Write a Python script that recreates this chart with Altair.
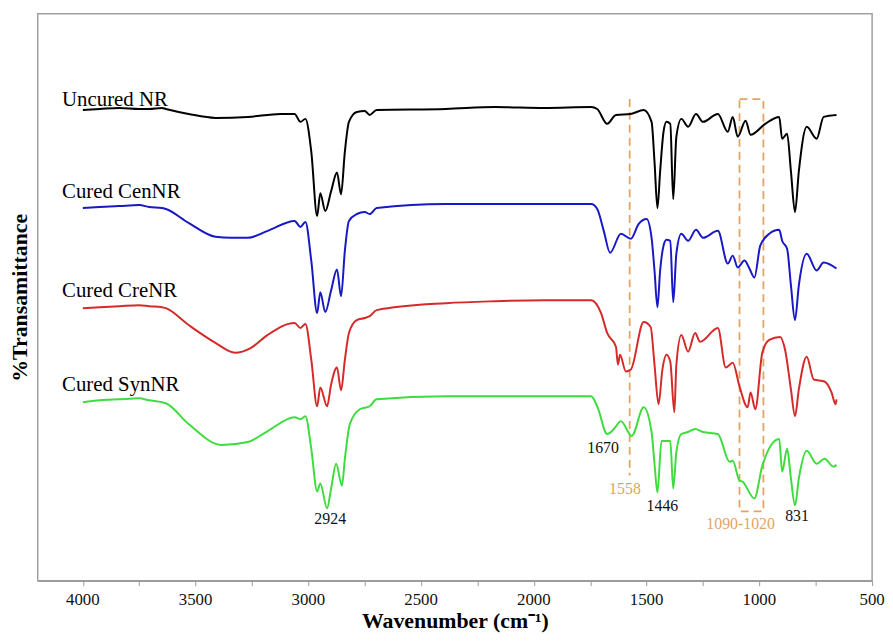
import altair as alt
import pandas as pd

# ---- data (wavenumber, level; level grows downward on the page) ----
uncured_wn = [4000, 3925, 3838, 3750, 3706, 3649, 3632, 3531, 3412, 3268, 3123, 3061, 3035, 3013, 2987, 2961, 2947, 2925, 2899, 2873, 2855, 2838, 2820, 2785, 2750, 2728, 2697, 2390, 2171, 1952, 1746, 1719, 1675, 1636, 1570, 1513, 1478, 1465, 1452, 1440, 1425, 1412, 1395, 1382, 1368, 1346, 1316, 1281, 1250, 1184, 1140, 1118, 1096, 1061, 1039, 974, 912, 899, 877, 860, 842, 825, 790, 746, 715, 658]
uncured_t = [108, 107, 106, 107, 107, 106, 107, 112, 116, 115, 112, 112, 120, 117, 150, 215, 192, 210, 190, 171, 193, 150, 120, 110, 109, 113, 108, 107, 105, 106, 105, 107, 122, 113, 112, 108, 120, 160, 207, 170, 130, 120, 122, 198, 135, 117, 125, 112, 120, 112, 130, 115, 135, 119, 133, 122, 115, 137, 132, 170, 211, 170, 125, 137, 115, 113]

cen_wn = [4000, 3925, 3838, 3750, 3706, 3649, 3632, 3531, 3412, 3342, 3268, 3180, 3061, 3035, 3013, 2987, 2961, 2947, 2925, 2899, 2873, 2855, 2838, 2820, 2785, 2750, 2728, 2697, 2390, 2171, 1952, 1746, 1719, 1690, 1662, 1614, 1570, 1535, 1500, 1478, 1465, 1452, 1440, 1425, 1412, 1395, 1382, 1368, 1346, 1316, 1281, 1250, 1184, 1140, 1118, 1096, 1066, 1044, 1022, 996, 956, 912, 899, 877, 860, 842, 825, 790, 746, 715, 658]
cen_t = [207, 206, 205, 204, 206, 207, 208, 222, 236, 237, 237, 230, 220, 226, 221, 260, 313, 292, 312, 290, 269, 296, 250, 220, 213, 211, 213, 207, 203, 203, 203, 203, 208, 230, 252, 233, 238, 223, 218, 237, 270, 307, 270, 245, 239, 240, 302, 253, 233, 240, 229, 237, 230, 263, 255, 267, 260, 268, 277, 245, 233, 229, 240, 248, 285, 320, 285, 253, 270, 262, 268]

cre_wn = [4000, 3925, 3838, 3750, 3706, 3649, 3632, 3531, 3412, 3325, 3254, 3180, 3061, 3035, 3013, 2987, 2961, 2947, 2917, 2899, 2873, 2855, 2838, 2820, 2785, 2750, 2728, 2697, 2390, 2171, 1952, 1746, 1702, 1675, 1636, 1627, 1618, 1592, 1570, 1513, 1482, 1465, 1447, 1430, 1412, 1395, 1377, 1368, 1346, 1316, 1285, 1263, 1184, 1149, 1118, 1088, 1052, 1039, 1018, 987, 956, 908, 886, 860, 842, 825, 790, 759, 711, 680, 662, 658]
cre_t = [308, 307, 306, 305, 306, 307, 308, 325, 343, 353, 348, 335, 323, 328, 324, 360, 407, 388, 407, 385, 368, 391, 360, 333, 320, 318, 316, 310, 303, 301, 300, 300, 313, 333, 347, 365, 355, 372, 370, 322, 327, 365, 405, 370, 355, 362, 413, 365, 335, 352, 333, 342, 328, 368, 363, 387, 408, 393, 410, 353, 340, 337, 350, 390, 417, 390, 357, 380, 382, 393, 405, 400]

syn_wn = [4000, 3925, 3838, 3750, 3706, 3649, 3632, 3531, 3386, 3268, 3180, 3061, 3035, 3013, 2987, 2961, 2947, 2917, 2899, 2877, 2851, 2838, 2816, 2772, 2728, 2697, 2390, 2171, 1952, 1746, 1719, 1675, 1645, 1614, 1566, 1513, 1478, 1465, 1452, 1434, 1395, 1382, 1368, 1346, 1316, 1285, 1250, 1184, 1132, 1118, 1088, 1075, 1022, 987, 912, 899, 877, 860, 842, 825, 790, 746, 711, 671, 658]
syn_t = [403, 401, 400, 399, 401, 403, 404, 425, 446, 443, 432, 418, 420, 417, 450, 493, 485, 510, 490, 465, 487, 460, 425, 410, 407, 400, 397, 397, 397, 397, 407, 435, 430, 422, 437, 408, 433, 465, 494, 442, 442, 490, 453, 435, 433, 430, 433, 435, 463, 462, 482, 483, 500, 467, 440, 473, 450, 480, 507, 480, 452, 465, 460, 468, 466]

series_names = ["Uncured NR", "Cured CenNR", "Cured CreNR", "Cured SynNR"]
series_colors = ["#000000", "#1818c4", "#d62a2a", "#3edc3e"]

label_wn = [4092, 4092, 4092, 4092]
label_t = [104, 197, 297, 392]

black_ann_text = ["2924", "1670", "1446", "831"]
black_ann_wn = [2903, 1693, 1430, 833]
black_ann_t = [521, 449, 508, 518]

orange_ann_text = ["1558", "1090-1020"]
orange_ann_wn = [1596, 1083]
orange_ann_t = [491, 526]

line_1558_wn = [1575]
line_1558_t = [97, 477]
box_wn = [1088, 982]
box_t = [97, 513]

tick_values = list(range(500, 4001, 250))
tick_label_values = [4000, 3500, 3000, 2500, 2000, 1500, 1000, 500]
tick_label_text = ["4000", "3500", "3000", "2500", "2000", "1500", "1000", "500"]

ORANGE = "#e3a463"
SERIF = "Liberation Serif"

# ---- tables ----
rows = []
for name, wns, ts in zip(series_names, [uncured_wn, cen_wn, cre_wn, syn_wn], [uncured_t, cen_t, cre_t, syn_t]):
    for i, (w, t) in enumerate(zip(wns, ts)):
        rows.append({"series": name, "wn": w, "t": t, "order": i})
spec_df = pd.DataFrame(rows)

lab_df = pd.DataFrame({"series": series_names, "wn": label_wn, "t": label_t})
bann_df = pd.DataFrame({"text": black_ann_text, "wn": black_ann_wn, "t": black_ann_t})
oann_df = pd.DataFrame({"text": orange_ann_text, "wn": orange_ann_wn, "t": orange_ann_t})
vline_df = pd.DataFrame({"wn": line_1558_wn, "t": [line_1558_t[0]], "t2": [line_1558_t[1]]})
box_df = pd.DataFrame({"wn": [box_wn[0]], "wn2": [box_wn[1]], "t": [box_t[0]], "t2": [box_t[1]]})
tick_df = pd.DataFrame({"wn": tick_label_values, "text": tick_label_text})

xscale = alt.Scale(domain=[4200, 500], nice=False, zero=False)
yscale = alt.Scale(domain=[11, 583], reverse=True, nice=False, zero=False)

xaxis = alt.Axis(
    values=tick_values,
    labels=False,
    title="Wavenumber (cm⁻¹)",
    titleFont=SERIF, titleFontSize=22, titleFontWeight="bold", titleColor="#000000",
    titlePadding=25,
    tickSize=5, tickColor="#9a9a9a", domainColor="#9a9a9a", domainWidth=1.5,
    grid=False,
)
yaxis = alt.Axis(
    labels=False, ticks=False, domain=False, grid=False,
    title="%Transamittance",
    titleFont=SERIF, titleFontSize=22, titleFontWeight="bold", titleColor="#000000",
    titlePadding=6,
)

X = alt.X("wn:Q", scale=xscale, axis=xaxis)
Y = alt.Y("t:Q", scale=yscale, axis=yaxis)

lines = alt.Chart(spec_df).mark_line(strokeWidth=2, interpolate="monotone").encode(
    x=X, y=Y,
    color=alt.Color("series:N", scale=alt.Scale(domain=series_names, range=series_colors), legend=None),
    detail="series:N",
    order="order:Q",
)

labels = alt.Chart(lab_df).mark_text(
    align="left", baseline="alphabetic", font=SERIF, fontSize=21, fill="#000"
).encode(x=X, y=Y, text="series:N")

bann = alt.Chart(bann_df).mark_text(
    align="center", baseline="middle", font=SERIF, fontSize=16, fill="#111111"
).encode(x=X, y=Y, text="text:N")

oann = alt.Chart(oann_df).mark_text(
    align="center", baseline="middle", font=SERIF, fontSize=16, fill=ORANGE
).encode(x=X, y=Y, text="text:N")

ticklabels = alt.Chart(tick_df).mark_text(
    align="center", baseline="middle", font=SERIF, fontSize=17, fill="#111111"
).encode(x=X, y=alt.value(592), text="text:N")

vline = alt.Chart(vline_df).mark_rule(color=ORANGE, strokeWidth=1.8, strokeDash=[8, 5]).encode(
    x=X, y=Y, y2="t2:Q"
)

box = alt.Chart(box_df).mark_rect(
    fillOpacity=0, stroke=ORANGE, strokeWidth=1.8, strokeDash=[8, 5]
).encode(x=X, x2="wn2:Q", y=Y, y2="t2:Q")

chart = alt.layer(vline, box, lines, labels, bann, oann, ticklabels).properties(
    width=842, height=572,
    autosize=alt.AutoSizeParams(type="none"),
    padding={"left": 30, "top": 3, "right": 13, "bottom": 58},
    background="white",
).configure_view(
    stroke="#a0a0a0", strokeWidth=1.5
).configure_axis(
    titleFont=SERIF, titleFontSize=22, titleFontWeight="bold", titleColor="#000000",
    tickColor="#9a9a9a", domainColor="#9a9a9a", domainWidth=1.5,
)

chart.save("out.html", embed_options={"renderer": "svg", "actions": False})
